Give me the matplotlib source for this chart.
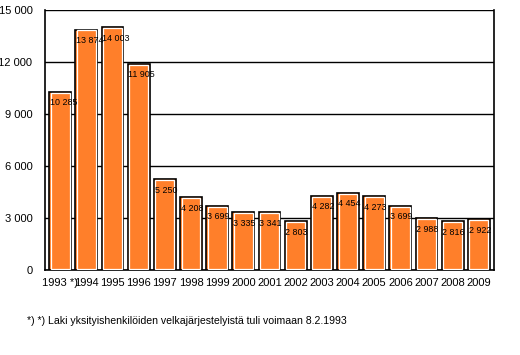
import matplotlib
matplotlib.use("Agg")
import matplotlib.pyplot as plt
import numpy as np

plt.rcParams['font.family'] = ['Liberation Sans', 'DejaVu Sans']

years = ["1993 *)", "1994", "1995", "1996", "1997", "1998", "1999", "2000", "2001",
         "2002", "2003", "2004", "2005", "2006", "2007", "2008", "2009"]
values = [10285, 13874, 14003, 11905, 5250, 4208, 3699, 3335, 3341,
          2803, 4282, 4454, 4273, 3699, 2988, 2816, 2922]
yticks = [0, 3000, 6000, 9000, 12000, 15000]
footnote = "*) *) Laki yksityishenkilöiden velkajärjestelyistä tuli voimaan 8.2.1993"

def fmt(v):
    return f"{v:,}".replace(",", " ")

fig = plt.figure(figsize=(5.2, 3.55), dpi=100)
ax = fig.add_axes([45/520, 85/355, 449/520, 260/355])

x = np.arange(len(values))
w = 0.84
orange = '#FF7F2A'
ax.bar(x, values, width=w, color=orange, edgecolor='black', linewidth=1.2, zorder=3)
ax.bar(x, np.array(values) - 110, width=w - 0.12, bottom=55, fill=False,
       edgecolor='white', linewidth=0.9, zorder=4)

for xi, v in zip(x, values):
    ax.annotate(fmt(v), (xi - w/2, v), xytext=(0.5, -8), textcoords='offset points',
                ha='left', va='center', fontsize=6.4, color='black', zorder=5)

ax.set_xlim(-0.58, len(values) - 0.42)
ax.set_ylim(0, 15000)
ax.set_yticks(yticks)
ax.set_yticklabels([fmt(t) for t in yticks], fontsize=8)
ax.set_xticks(x)
ax.set_xticklabels(years, fontsize=8)
ax.tick_params(axis='both', length=0)
ax.tick_params(axis='y', pad=9)
ax.tick_params(axis='x', pad=6)
ax.yaxis.grid(True, color='black', linewidth=1.0, zorder=0)
ax.set_axisbelow(True)
for s in ['left', 'right', 'bottom']:
    ax.spines[s].set_linewidth(1.2)
ax.spines['top'].set_visible(False)

fig.text(27/520, 1 - 321/355, footnote, fontsize=7.6, ha='left', va='center')

fig.savefig("out.png", dpi=100)
